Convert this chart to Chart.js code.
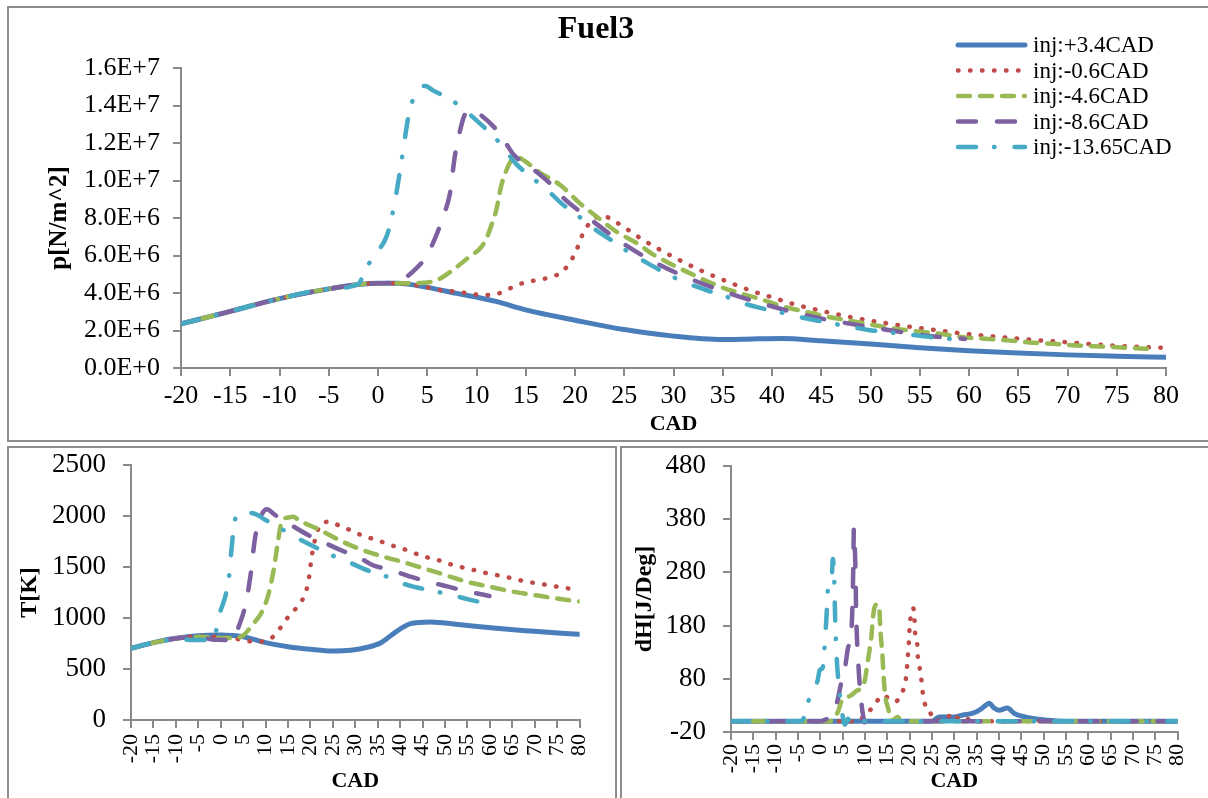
<!DOCTYPE html>
<html>
<head>
<meta charset="utf-8">
<script src="https://cdn.jsdelivr.net/npm/chart.js@4.4.1/dist/chart.umd.min.js"></script>
<style>
  html, body { margin: 0; padding: 0; background: #fff; width: 1208px; height: 798px; overflow: hidden; }
  .frame { position: absolute; border: 2px solid #8c8c8c; box-sizing: border-box; }
  canvas { position: absolute; }
</style>
</head>
<body>
<div class="frame" style="left:7px;top:6px;width:1220px;height:436px"></div>
<div class="frame" style="left:7px;top:446px;width:610px;height:400px"></div>
<div class="frame" style="left:620px;top:446px;width:600px;height:400px"></div>
<canvas id="pChart" width="1197" height="431" style="left:9px;top:8px"></canvas>
<canvas id="tChart" width="603" height="349" style="left:9px;top:449px"></canvas>
<canvas id="hChart" width="586" height="349" style="left:622px;top:449px"></canvas>

<script>
// series names (injection timing)
const seriesLabels = ['inj:+3.4CAD', 'inj:-0.6CAD', 'inj:-4.6CAD', 'inj:-8.6CAD', 'inj:-13.65CAD'];

// tick values
const cadTicks = [-20, -15, -10, -5, 0, 5, 10, 15, 20, 25, 30, 35, 40, 45, 50, 55, 60, 65, 70, 75, 80];
const pressureTicks = [0, 2e6, 4e6, 6e6, 8e6, 1e7, 1.2e7, 1.4e7, 1.6e7];
const tempTicks = [0, 500, 1000, 1500, 2000, 2500];
const heatTicks = [-20, 80, 180, 280, 380, 480];

// pressure [CAD, N/m^2]
const pressureInj34 = [[-20,2.35e6],[-15,3.02e6],[-10,3.7e6],[-5,4.22e6],[-2,4.45e6],[0,4.52e6],[2,4.52e6],[5,4.3e6],[8,3.98e6],[10,3.78e6],[12,3.55e6],[15,3.1e6],[20,2.55e6],[25,2.05e6],[30,1.7e6],[35,1.52e6],[38,1.55e6],[41,1.57e6],[45,1.45e6],[50,1.28e6],[55,1.08e6],[60,0.92e6],[65,0.8e6],[70,0.7e6],[75,0.63e6],[80,0.57e6]];
const pressureInjM06 = [[-20,2.35e6],[-15,3.02e6],[-10,3.7e6],[-5,4.22e6],[0,4.52e6],[3,4.48e6],[5,4.3e6],[6.2,4.16e6],[7.4,4.1e6],[8.6,4.02e6],[9.8,3.93e6],[11,3.89e6],[12.1,3.95e6],[13.2,4.2e6],[14.3,4.46e6],[16,4.68e6],[17.7,4.87e6],[18.8,5.17e6],[19.5,5.67e6],[20.1,6.2e6],[20.5,6.79e6],[21,7.36e6],[21.8,7.9e6],[22.8,8.12e6],[23.9,7.86e6],[25,7.5e6],[27,6.8e6],[29,6.2e6],[31,5.65e6],[33,5.15e6],[35.5,4.6e6],[38,4.1e6],[40,3.77e6],[42.2,3.41e6],[45,3.05e6],[48,2.71e6],[51,2.44e6],[54,2.2e6],[57,2.0e6],[60,1.8e6],[63,1.66e6],[66,1.52e6],[70,1.37e6],[75,1.18e6],[79.5,1.08e6]];
const pressureInjM46 = [[-20,2.35e6],[-15,3.02e6],[-10,3.7e6],[-5,4.22e6],[0,4.52e6],[2,4.52e6],[4.6,4.55e6],[6,4.69e6],[7.6,5.23e6],[9.3,5.94e6],[10.4,6.4e6],[11,6.9e6],[11.5,7.6e6],[12,8.4e6],[12.5,9.7e6],[13,10.5e6],[13.6,11.1e6],[14.3,11.2e6],[15,11.0e6],[16.5,10.4e6],[18.5,9.76e6],[20.5,8.78e6],[22.2,8.07e6],[24.2,7.27e6],[26.3,6.65e6],[28,6.03e6],[30.3,5.4e6],[32.4,4.87e6],[34.7,4.34e6],[36.8,3.98e6],[39.1,3.63e6],[41.2,3.27e6],[43.4,3.0e6],[45.6,2.74e6],[47.9,2.52e6],[50.3,2.29e6],[52.7,2.08e6],[55,1.94e6],[57.4,1.8e6],[59.8,1.62e6],[62,1.55e6],[64.2,1.46e6],[66.5,1.35e6],[68.9,1.28e6],[71.3,1.19e6],[73.6,1.14e6],[76,1.08e6],[79,1.0e6]];
const pressureInjM86 = [[-20,2.35e6],[-15,3.02e6],[-10,3.7e6],[-5,4.22e6],[0,4.52e6],[2,4.55e6],[3,4.9e6],[3.9,5.32e6],[4.9,5.94e6],[6,7.18e6],[6.6,8.07e6],[7.3,9.3e6],[7.8,11.3e6],[8.15,12.25e6],[8.8,13.5e6],[9.5,13.76e6],[10.2,13.58e6],[12.2,12.6e6],[13.9,11.3e6],[15,10.9e6],[17.8,9.67e6],[18.5,9.23e6],[21.9,7.8e6],[24.6,6.74e6],[28.3,5.58e6],[32,4.69e6],[35.7,3.98e6],[39.5,3.36e6],[43.5,2.8e6],[47.7,2.38e6],[51.8,2.03e6],[55.9,1.71e6],[59.6,1.55e6]];
const pressureInjM1365 = [[-20,2.35e6],[-15,3.02e6],[-10,3.7e6],[-5,4.22e6],[-2,4.48e6],[-1.3,5.2e6],[-0.5,5.94e6],[0.9,7.06e6],[1.55,8.43e6],[2.2,10.4e6],[2.6,11.8e6],[3.2,13.7e6],[4.1,14.86e6],[4.8,15.04e6],[5.6,14.8e6],[7.6,14.24e6],[10.7,12.87e6],[12.4,11.98e6],[14,10.9e6],[15.5,10.2e6],[17,9.58e6],[18.8,8.7e6],[20.2,8.16e6],[22,7.41e6],[23.9,6.74e6],[25.4,6.2e6],[27.4,5.58e6],[29.4,5.0e6],[31,4.6e6],[33.3,4.16e6],[35.4,3.8e6],[37.1,3.45e6],[39.4,3.13e6],[41.6,2.88e6],[43.4,2.65e6],[45.7,2.42e6],[47.9,2.2e6],[49.8,2.03e6],[52,1.9e6],[54.3,1.76e6],[56.2,1.64e6],[58.5,1.53e6]];

// temperature [CAD, K]
const tempInj34 = [[-20,703],[-15,758],[-10,801],[-5,827],[0,833],[5,817],[10,758],[15,719],[20,693],[25,676],[29,684],[32.7,713],[35.7,758],[38.6,850],[42.3,945],[46.7,962],[54,931],[61.4,899],[68.8,873],[76,850],[80,840]];
const tempInjM06 = [[-20,703],[-15,758],[-10,800],[-5,820],[0,812],[3,800],[5.8,775],[8.5,768],[10.9,791],[12.7,866],[14.1,958],[15.8,1049],[17.6,1137],[18.8,1235],[19.5,1346],[19.9,1464],[20.2,1575],[20.6,1683],[21.3,1814],[22.2,1912],[24.4,1944],[26.8,1895],[29.3,1856],[31.6,1807],[34,1775],[36.5,1738],[39,1699],[41.4,1667],[43.9,1624],[46.3,1591],[48.9,1562],[51.3,1526],[53.8,1497],[56.4,1471],[58.8,1444],[61.4,1422],[64,1399],[66.4,1373],[69,1350],[71.6,1333],[74,1314],[76.5,1297],[79.5,1275]];
const tempInjM46 = [[-20,703],[-15,758],[-10,800],[-5,815],[0,805],[3,805],[5.15,833],[7,931],[9.2,1062],[10.7,1242],[11.8,1471],[12.7,1732],[13.6,1944],[15,1985],[16.2,1993],[17.3,1961],[22.1,1863],[26.8,1755],[31.2,1673],[35.7,1608],[40.4,1552],[45.2,1487],[50,1422],[54.8,1356],[59.9,1307],[65.1,1258],[69.9,1225],[74.6,1193],[80,1162]];
const tempInjM86 = [[-20,703],[-15,758],[-10,800],[-5,815],[-2,790],[1,784],[2.3,775],[4.4,964],[5.5,1127],[6.6,1405],[7.7,1797],[9,2000],[10.3,2066],[12.1,2010],[15,1930],[19.5,1814],[23.5,1730],[27.6,1650],[31,1590],[33.8,1520],[37.9,1471],[42.3,1405],[46.3,1356],[50.7,1307],[55.2,1258],[59.9,1216]];
const tempInjM1365 = [[-20,703],[-15,758],[-10,790],[-6,784],[-3,784],[-1.5,800],[-0.4,1020],[1.2,1242],[1.9,1422],[2.3,1624],[2.8,1846],[3.5,2010],[5,2035],[7.9,2016],[10,1960],[12.1,1912],[15.8,1814],[20.1,1716],[24.6,1618],[28.3,1552],[32.9,1464],[37.5,1399],[41.5,1324],[46.3,1275],[51.5,1225],[55.2,1183],[59.9,1137]];

// heat release rate [CAD, J/Deg]
const heatInj34 = [[-20,0],[25,0],[26.6,8],[30,8],[31.9,12],[34,15],[35.6,21],[37,30],[37.8,34],[38.9,25],[40,21],[41.9,25],[43.4,15],[46,8],[51,2],[55,0],[80,0]];
const heatInjM06 = [[-20,0],[8,0],[8.8,5],[10.3,10],[11.4,24],[12.7,38],[13.8,49],[15,45],[16,38],[17,38],[18.1,52],[18.9,68],[19.3,90],[19.5,112],[19.7,135],[19.9,160],[20,179],[20.3,198],[20.8,213],[21.1,191],[21.2,169],[21.7,145],[21.8,125],[22.2,103],[22.6,81],[22.9,56],[23.3,37],[23.9,21],[24.6,16],[25.5,2],[28,2],[29.5,16],[31,5],[32.2,8],[34,0],[80,0]];
const heatInjM46 = [[-20,0],[2,0],[3.95,18],[4.7,37],[6.9,49],[7.9,56],[9.9,75],[10.6,112],[11.4,157],[11.8,195],[12.1,213],[12.7,220],[13.2,215],[13.4,179],[13.6,155],[13.9,126],[14.1,94],[14.5,50],[15.2,24],[15.6,10],[16,2],[17.4,8],[18,0],[80,0]];
const heatInjM86 = [[-20,0],[0,0],[1,3],[2.5,10],[3.2,20],[4,45],[5.1,90],[5.5,100],[6.2,138],[6.9,163],[7.2,220],[7.4,300],[7.5,362],[7.7,330],[7.9,275],[8,213],[8.1,180],[8.3,138],[8.5,110],[8.8,70],[9.2,35],[9.6,10],[10,-3],[10.5,0],[80,0]];
const heatInjM1365 = [[-20,0],[-4.5,0],[-3.9,3],[-2.7,37],[-1.9,57],[-0.65,75],[-0.1,97],[0.5,100],[1,145],[1.4,200],[1.7,250],[2.2,270],[2.6,277],[2.8,305],[3.1,270],[3.3,200],[3.6,130],[4,80],[4.5,40],[5,10],[5.5,-6],[6.2,5],[6.8,-2],[7.5,3],[8.5,0],[80,0]];

// line look of each series (Excel 2007 palette)
const seriesStyles = [
    { color: '#4A7EBB', width: 5, dash: [] },
    { color: '#BE4B48', width: 4.5, dash: [0.5, 11.5] },
    { color: '#98B954', width: 4.5, dash: [12, 10] },
    { color: '#7D60A0', width: 4.5, dash: [18, 21] },
    { color: '#46AAC5', width: 4.5, dash: [18, 18, 0.5, 20] }
];

const FONT = '"Liberation Serif", "Times New Roman", serif';
const AXIS_GRAY = '#8a8a8a';

function makeDatasets(seriesData) {
    return seriesData.map((data, i) => ({
        label: seriesLabels[i],
        data: data,
        borderColor: seriesStyles[i].color,
        borderWidth: seriesStyles[i].width,
        borderDash: seriesStyles[i].dash,
        borderCapStyle: 'round',
        borderJoinStyle: 'round',
        pointRadius: 0,
        fill: false,
        cubicInterpolationMode: 'monotone',
        order: seriesData.length - i
    }));
}

function fixedTicks(values) {
    return scale => { scale.ticks = values.map(v => ({ value: v })); };
}

// x axis (CAD) shared setup
function cadAxis(opts) {
    return {
        type: 'linear',
        min: -20,
        max: 80,
        afterBuildTicks: fixedTicks(cadTicks),
        afterFit: scale => {
            scale.height = opts.height;
            scale.paddingTop = 0;
            scale.paddingBottom = 0;
        },
        border: { color: AXIS_GRAY, width: 2 },
        grid: { drawOnChartArea: false, tickLength: 8, color: AXIS_GRAY, lineWidth: 2 },
        ticks: {
            color: '#000',
            font: { family: FONT, size: opts.tickSize },
            padding: opts.tickPad,
            autoSkip: false,
            minRotation: opts.rotate,
            maxRotation: opts.rotate
        },
        title: {
            display: true,
            text: 'CAD',
            color: '#000',
            font: { family: FONT, size: 22, weight: 'bold' },
            padding: { top: 0, bottom: opts.titlePad }
        }
    };
}

function valueAxis(opts) {
    return {
        type: 'linear',
        min: opts.ticks[0],
        max: opts.ticks[opts.ticks.length - 1],
        afterBuildTicks: fixedTicks(opts.ticks),
        afterFit: scale => {
            scale.width = opts.width;
            scale.paddingTop = 0;
            scale.paddingBottom = 0;
        },
        border: { color: AXIS_GRAY, width: 2 },
        grid: { drawOnChartArea: false, tickLength: 8, color: AXIS_GRAY, lineWidth: 2 },
        ticks: {
            color: '#000',
            font: { family: FONT, size: opts.tickSize },
            padding: opts.tickPad,
            callback: opts.format || (v => v)
        },
        title: {
            display: true,
            text: opts.title,
            color: '#000',
            font: { family: FONT, size: opts.titleSize, weight: 'bold' },
            padding: { top: opts.titlePad, bottom: 0 }
        }
    };
}

// title and legend of the pressure panel
const pressureDecor = {
    id: 'pressureDecor',
    afterDraw(chart) {
        const ctx = chart.ctx;
        ctx.save();
        ctx.fillStyle = '#000';
        ctx.textAlign = 'center';
        ctx.textBaseline = 'middle';
        ctx.font = 'bold 32px ' + FONT;
        ctx.fillText('Fuel3', 587, 22);

        ctx.textAlign = 'left';
        ctx.font = '23px ' + FONT;
        chart.data.datasets.forEach((ds, i) => {
            const y = 37 + i * 25.5;
            ctx.beginPath();
            ctx.strokeStyle = ds.borderColor;
            ctx.lineWidth = ds.borderWidth;
            ctx.lineCap = 'round';
            ctx.setLineDash(ds.borderDash);
            ctx.moveTo(949, y);
            ctx.lineTo(1016, y);
            ctx.stroke();
            ctx.setLineDash([]);
            ctx.fillText(ds.label, 1024, y + 1);
        });
        ctx.restore();
    }
};

const baseOptions = {
    responsive: false,
    animation: false,
    devicePixelRatio: 1,
    plugins: { legend: { display: false }, tooltip: { enabled: false } }
};

// Pressure chart
new Chart(document.getElementById('pChart'), {
    type: 'line',
    data: { datasets: makeDatasets([pressureInj34, pressureInjM06, pressureInjM46, pressureInjM86, pressureInjM1365]) },
    options: {
        ...baseOptions,
        layout: { padding: { left: 0, right: 40, top: 60, bottom: 0 } },
        scales: {
            x: cadAxis({ height: 71, tickSize: 26, tickPad: 5, rotate: 0, titlePad: 1 }),
            y: valueAxis({
                ticks: pressureTicks, width: 172, tickSize: 26, tickPad: 13,
                title: 'p[N/m^2]', titleSize: 25, titlePad: 36,
                format: v => v.toExponential(1).toUpperCase()
            })
        }
    },
    plugins: [pressureDecor]
});

// Temperature chart
new Chart(document.getElementById('tChart'), {
    type: 'line',
    data: { datasets: makeDatasets([tempInj34, tempInjM06, tempInjM46, tempInjM86, tempInjM1365]) },
    options: {
        ...baseOptions,
        layout: { padding: { left: 0, right: 28, top: 16, bottom: 0 } },
        scales: {
            x: cadAxis({ height: 78, tickSize: 22, tickPad: 6, rotate: 90, titlePad: 3 }),
            y: valueAxis({
                ticks: tempTicks, width: 122, tickSize: 27, tickPad: 17,
                title: 'T[K]', titleSize: 24, titlePad: 6
            })
        }
    }
});

// Heat release chart
new Chart(document.getElementById('hChart'), {
    type: 'line',
    data: { datasets: makeDatasets([heatInj34, heatInjM06, heatInjM46, heatInjM86, heatInjM1365]) },
    options: {
        ...baseOptions,
        layout: { padding: { left: 0, right: 29, top: 17, bottom: 0 } },
        scales: {
            x: cadAxis({ height: 66, tickSize: 22, tickPad: 4, rotate: 90, titlePad: 3 }),
            y: valueAxis({
                ticks: heatTicks, width: 109, tickSize: 27, tickPad: 17,
                title: 'dH[J/Deg]', titleSize: 24, titlePad: 8
            })
        }
    }
});
</script>
</body>
</html>
